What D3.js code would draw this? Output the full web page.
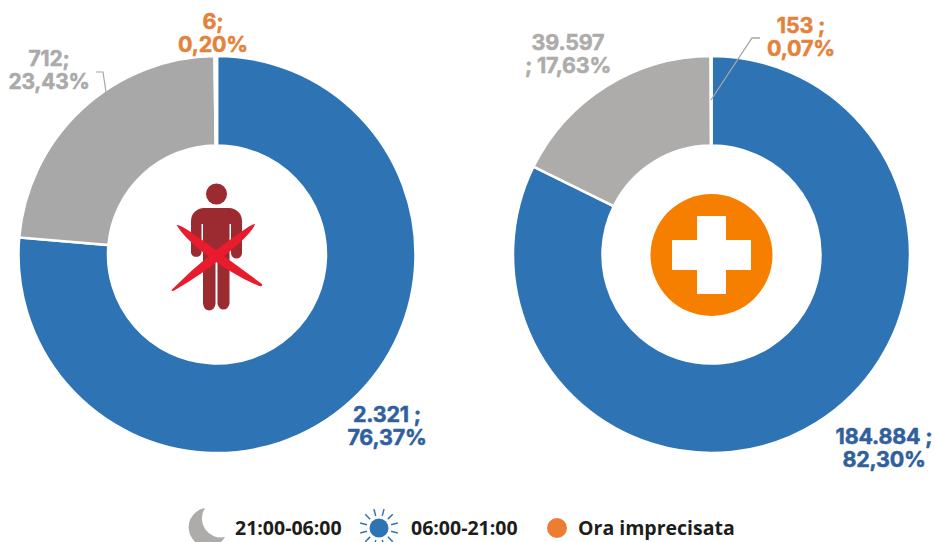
<!DOCTYPE html>
<html><head><meta charset="utf-8">
<script src="https://cdn.jsdelivr.net/npm/d3@7"></script>
<style>html,body{margin:0;padding:0;background:#fff}svg{display:block}
.lab{font-family:Inter,Lato,sans-serif;font-weight:700;font-size:21.5px;letter-spacing:-.2px;stroke-width:.5px}
.leg{font-family:"Open Sans",sans-serif;font-weight:700;font-size:19.5px;fill:#1d1d1b}</style>
</head><body><svg id="c" width="935" height="542"></svg>
<script>
const categories=["06:00-21:00","21:00-06:00","Ora imprecisata"];
const leftValues=[2321,712,6];
const rightValues=[184884,39597,153];
const leftLabels=[["2.321 ;","76,37%"],["712;","23,43%"],["6;","0,20%"]];
const rightLabels=[["184.884 ;","82,30%"],["39.597","; 17,63%"],["153 ;","0,07%"]];
const legendLabels=["21:00-06:00","06:00-21:00","Ora imprecisata"];
const segColor=["#2e74b5","#a9a8a8","#ed7d31"];
const svg=d3.select("#c");
const R=198.5,r=109;
const pie=d3.pie().sort(null).value(d=>d);
const arc=d3.arc().innerRadius(r).outerRadius(R);
function donut(cx,cy,vals,grey){
  const g=svg.append("g").attr("transform",`translate(${cx},${cy})`);
  g.selectAll("path").data(pie(vals)).join("path").attr("d",arc)
   .attr("fill",(d,i)=>i==1?grey:segColor[i]).attr("stroke","#fff").attr("stroke-width",2.5);
}
donut(217,254.5,leftValues,"#a9a8a8");
donut(711.5,254.5,rightValues,"#aeacab");
function lab(x,y,lines,color,size){
  const t=svg.append("text").attr("class","lab").attr("fill",color).attr("stroke",color).attr("text-anchor","middle");
  if(size)t.style("font-size",size+"px");
  lines.forEach((s,i)=>t.append("tspan").attr("x",x).attr("y",y+i*23).text(s));
}
lab(213,29,leftLabels[2],"#e5813a");
lab(49,66,leftLabels[1],"#aaaaaa",21);
lab(387,422,leftLabels[0],"#2f5f9e");
lab(801,33,rightLabels[2],"#e5813a");
lab(568,50,rightLabels[1],"#aeacab");
lab(884,444,rightLabels[0],"#2f5f9e");
svg.append("path").attr("d","M96 72H103L106 92").attr("fill","none").attr("stroke","#a6a6a6").attr("stroke-width",1.2);
svg.append("path").attr("d","M760 38H752L711 100").attr("fill","none").attr("stroke","#a6a6a6").attr("stroke-width",1.3);
const p=svg.append("g").attr("fill","#9c2a31");
p.append("circle").attr("cx",216.5).attr("cy",194).attr("r",10.5);
p.append("path").attr("d","M204 208H229A13 13 0 0 1 242 221V253A5.5 5.5 0 0 1 231 253V224H229.5V304A6.5 9 0 0 1 217.5 304V262H215.5V304A6.5 9 0 0 1 203 304V224H201.5V253A5.5 5.5 0 0 1 191 253V221A13 13 0 0 1 204 208Z");
const x=svg.append("g").attr("fill","#e81c2c");
x.append("path").attr("d","M176.5 225Q180 224 198 237L262 284Q263 287 259 286Q232 275 200 250Q183 236 176.5 225Z");
x.append("path").attr("d","M255 224Q253 223 238 234Q202 259 171.5 290Q172 292 175 290Q208 271 236 246Q253 231 255 224Z");
svg.append("circle").attr("cx",711.5).attr("cy",255).attr("r",61).attr("fill","#f77f00");
svg.append("path").attr("fill","#fff").attr("d","M697 216H726V240H751V270H726V294H697V270H672V240H697Z");
svg.append("path").attr("fill","#aeacab").attr("d","M205 508A19.5 19.5 0 1 0 225 537A19 19 0 0 1 205 508Z");
const sun=svg.append("g").attr("transform","translate(379,528)");
sun.append("circle").attr("r",9.5).attr("fill","#2e74b5");
d3.range(12).forEach(i=>{const a=i*Math.PI/6+.26;
  sun.append("line").attr("x1",12.5*Math.cos(a)).attr("y1",12.5*Math.sin(a)).attr("x2",19.5*Math.cos(a)).attr("y2",19.5*Math.sin(a)).attr("stroke","#2e74b5").attr("stroke-width",1.5);});
svg.append("circle").attr("cx",557).attr("cy",528).attr("r",10).attr("fill","#ed7d31");
const lx=[235,411,578];
legendLabels.forEach((s,i)=>svg.append("text").attr("class","leg").attr("x",lx[i]).attr("y",535).text(s));
</script></body></html>
